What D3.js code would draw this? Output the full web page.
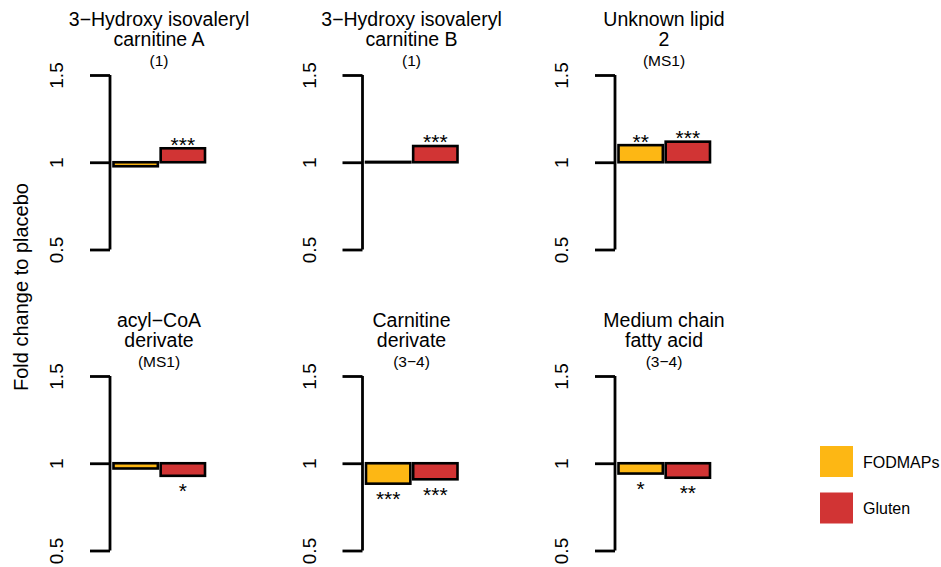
<!DOCTYPE html>
<html>
<head>
<meta charset="utf-8">
<script src="https://cdn.jsdelivr.net/npm/d3@7"></script>
<style>
  body { margin: 0; background: #fff; }
  text { font-family: "Liberation Sans", Arial, sans-serif; fill: #000; }
</style>
</head>
<body>
<script>
// Données
const titles = [
  ["3−Hydroxy isovaleryl", "carnitine A"],
  ["3−Hydroxy isovaleryl", "carnitine B"],
  ["Unknown lipid", "2"],
  ["acyl−CoA", "derivate"],
  ["Carnitine", "derivate"],
  ["Medium chain", "fatty acid"]
];
const subtitles = ["(1)", "(1)", "(MS1)", "(MS1)", "(3−4)", "(3−4)"];
const groups = ["FODMAPs", "Gluten"];
const fodmapValues = [0.977, 1.002, 1.098, 0.97, 0.883, 0.941];
const glutenValues = [1.08, 1.093, 1.118, 0.928, 0.908, 0.917];
const fodmapSig = ["", "", "**", "", "***", "*"];
const glutenSig = ["***", "***", "***", "*", "***", "**"];
const yTicks = [0.5, 1, 1.5];
const colors = ["#FDB714", "#D13434"];

// Paramètres
const width = 941;
const height = 567;

const svg = d3.select('body')
              .append('svg')
              .attr('width', width)
              .attr('height', height);

// position des panneaux (axe gauche de chaque panneau)
const col = d3.scaleLinear().domain([0, 2]).range([110, 615]);
const row = d3.scaleLinear().domain([0, 1]).range([0, 301]);

const y = d3.scaleLinear()
            .domain([0.5, 1.5])
            .range([249.5, 75]);

const color = d3.scaleOrdinal().domain(groups).range(colors);

titles.forEach((t, i) => {
  const cx = col(i % 3);
  const dy = row(Math.floor(i / 3));
  const g = svg.append('g').attr('transform', `translate(${cx}, ${dy})`);

  const x = d3.scaleBand()
              .domain(groups)
              .range([3.5, 95])
              .paddingInner(0.06);

  const rows = [
    { group: "FODMAPs", value: fodmapValues[i], sig: fodmapSig[i] },
    { group: "Gluten", value: glutenValues[i], sig: glutenSig[i] }
  ];

  // barres
  g.selectAll('rect')
   .data(rows)
   .enter()
   .append('rect')
   .attr('x', d => x(d.group))
   .attr('width', x.bandwidth())
   .attr('y', d => Math.min(y(d.value), y(1)))
   .attr('height', d => Math.max(Math.abs(y(d.value) - y(1)), 0.5))
   .attr('fill', d => color(d.group))
   .attr('stroke', '#000')
   .attr('stroke-width', 2.6);

  // étoiles
  g.selectAll('text.sig')
   .data(rows.filter(d => d.sig))
   .enter()
   .append('text')
   .attr('class', 'sig')
   .attr('x', d => x(d.group) + x.bandwidth() / 2)
   .attr('y', d => d.value >= 1 ? y(d.value) - 8.5 : y(d.value) + 10.5)
   .attr('dy', '0.57em')
   .attr('text-anchor', 'middle')
   .style('font-size', '21px')
   .text(d => d.sig);

  // axe vertical
  const axis = g.append('g')
    .call(d3.axisLeft(y).tickValues(yTicks).tickSize(20).tickFormat(d3.format('~g')));
  axis.select('.domain')
      .attr('d', `M0,${y(0.5)}V${y(1.5)}`)
      .attr('stroke-width', 2.8);
  axis.selectAll('.tick line').attr('stroke-width', 2.8);
  axis.selectAll('.tick text')
      .attr('transform', 'rotate(-90)')
      .attr('x', 0)
      .attr('y', -47)
      .attr('dy', 0)
      .attr('text-anchor', 'middle')
      .style('font-size', '19px')
      .style('font-family', '"Liberation Sans", Arial, sans-serif');

  // titres : une ligne = un texte
  const tx = 49;
  g.selectAll('text.title')
   .data(t)
   .enter()
   .append('text')
   .attr('class', 'title')
   .attr('x', tx)
   .attr('y', (d, j) => 26 + j * 19.5)
   .attr('text-anchor', 'middle')
   .style('font-size', '19.5px')
   .text(d => d);
  g.append('text')
   .attr('x', tx)
   .attr('y', 65.5)
   .attr('text-anchor', 'middle')
   .style('font-size', '15.5px')
   .text(subtitles[i]);
});

// titre de l'axe y
svg.append('text')
   .attr('transform', 'translate(28, 287) rotate(-90)')
   .attr('text-anchor', 'middle')
   .style('font-size', '20px')
   .text('Fold change to placebo');

// légende
const legend = svg.append('g')
  .selectAll('g')
  .data(groups)
  .enter()
  .append('g')
  .attr('transform', (d, i) => `translate(820, ${446 + i * 46.5})`);
legend.append('rect')
  .attr('width', 33)
  .attr('height', 31)
  .attr('fill', d => color(d));
legend.append('text')
  .attr('x', 43)
  .attr('y', 21.5)
  .style('font-size', '16px')
  .text(d => d);
</script>
</body>
</html>
